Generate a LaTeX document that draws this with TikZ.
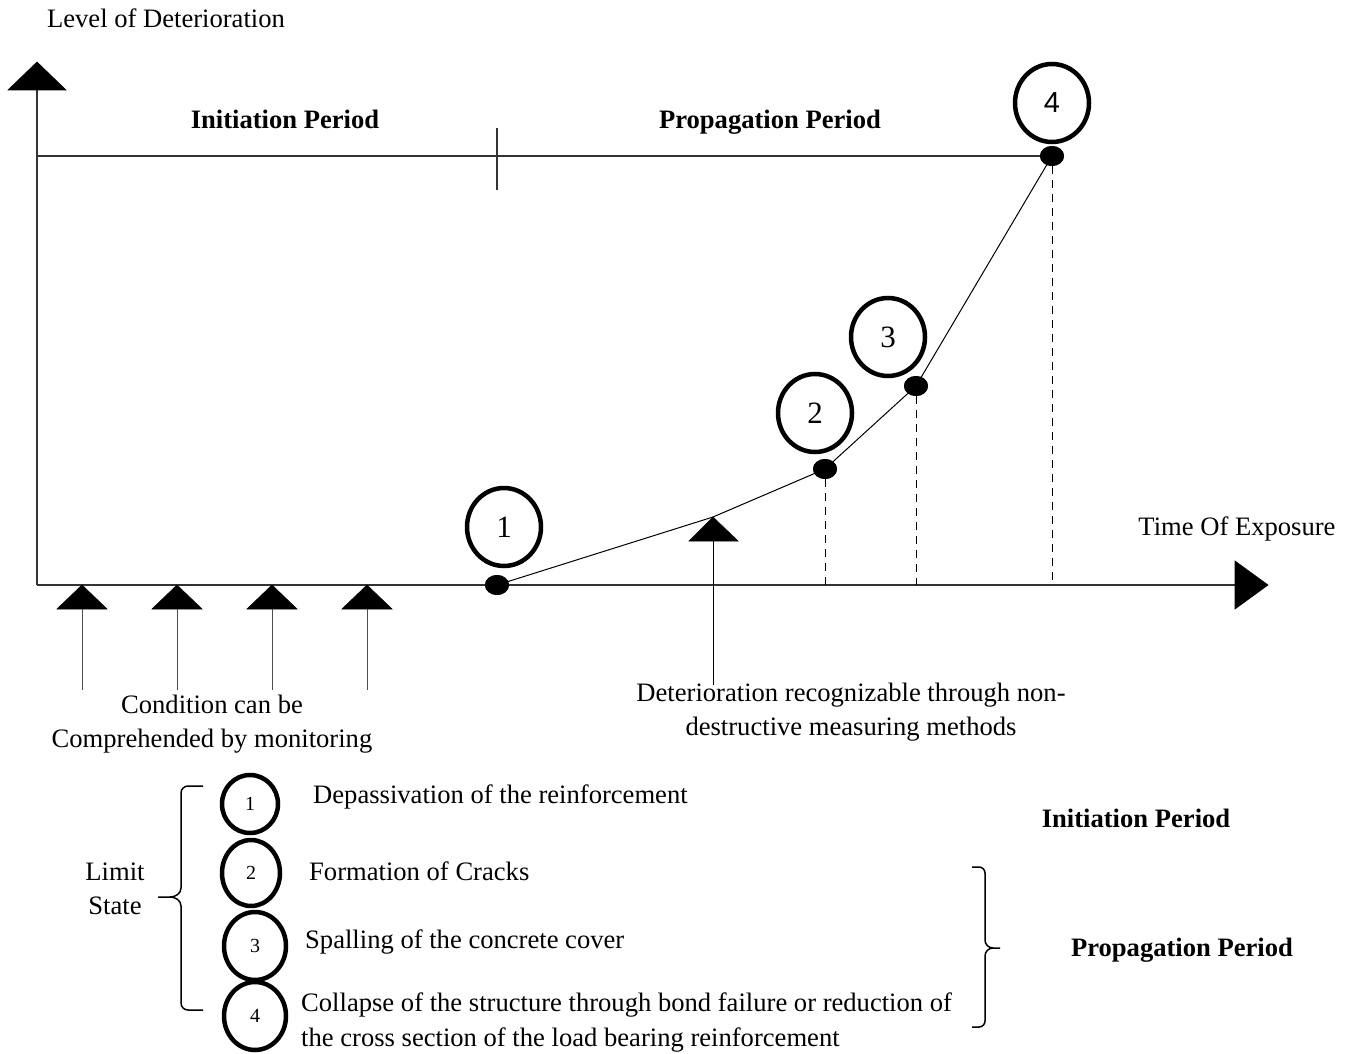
\documentclass[tikz,border=0pt]{standalone}
\usepackage{fontspec}
\setmainfont{Liberation Serif}
\newfontfamily\numsans{Liberation Sans}
\usetikzlibrary{shapes.geometric}
\begin{document}
\begin{tikzpicture}[x=1pt,y=-1pt,
  axisline/.style={line width=1.4pt, draw=black!80},
  thinline/.style={line width=1pt, draw=black},
  dashline/.style={line width=1pt, draw=black, dash pattern=on 8pt off 6pt},
  tri/.style={fill=black, draw=black, line width=0.6pt},
  dotnode/.style={ellipse, fill=black, minimum width=24pt, minimum height=20pt, inner sep=0pt},
  bignum/.style={ellipse, draw, line width=4.5pt, minimum width=74pt, minimum height=78pt, inner sep=0pt, font=\fontsize{31}{34}\selectfont},
  smallnum/.style={ellipse, draw, line width=4.5pt, minimum width=58pt, minimum height=64pt, inner sep=0pt, font=\fontsize{20}{22}\selectfont},
  txt/.style={font=\fontsize{26.6}{34}\selectfont, inner sep=0pt, align=center},
  ltxt/.style={font=\fontsize{26.6}{35}\selectfont, inner sep=0pt, anchor=west, align=left},
  btxt/.style={font=\fontsize{26.6}{30}\selectfont\bfseries, inner sep=0pt, text height=18pt, text depth=6pt}
]
\useasboundingbox (0,0) rectangle (1355,1054);

% axes
\coordinate (O) at (37,585);
\coordinate (ytop) at (37,90);
\coordinate (xend) at (1235,585);
\draw[axisline] (O) -- (ytop);
\fill[tri] (8,90) -- (37,62) -- (66,90) -- cycle;
\draw[axisline] (O) -- (xend);
\fill[tri] (1235,561) -- (1268,585) -- (1235,609) -- cycle;

% top period line
\coordinate (topL) at (37,156);
\node[dotnode] (d4) at (1052,156) {};
\draw[axisline] (topL) -- (d4);
\coordinate (tickT) at (497,128);
\coordinate (tickB) at (497,190);
\draw[axisline] (tickT) -- (tickB);

% labels
\node[txt] (ylab) at (166,18) {Level of Deterioration};
\node[txt] (xlab) at (1237,529) {Time Of Exposure};
\node[btxt] (ip) at (285,123) {Initiation Period};
\node[btxt] (pp) at (770,123) {Propagation Period};

% dots
\node[dotnode] (d1) at (497,585) {};
\node[dotnode] (d2) at (825,469) {};
\node[dotnode] (d3) at (916,386) {};

% deterioration curve
\coordinate (ndt) at (713,517);
\draw[thinline] (d1.center) -- (ndt) -- (d2.center) -- (d3.center) -- (d4.center);
\node[dotnode] at (d1) {};
\node[dotnode] at (d2) {};
\node[dotnode] at (d3) {};
\node[dotnode] at (d4) {};

% dashed drops
\coordinate (f2) at (825,585);
\coordinate (f3) at (916,585);
\coordinate (f4) at (1052,585);
\draw[dashline] (d2) -- (f2);
\draw[dashline] (d3) -- (f3);
\draw[dashline] (d4) -- (f4);

% numbered circles on graph
\node[bignum] (c1) at (504,527) {1};
\node[bignum] (c2) at (815,413) {2};
\node[bignum] (c3) at (888,337) {3};
\node[bignum] (c4) at (1052,103) {\numsans\fontsize{29}{32}\selectfont 4};

% NDT arrow
\coordinate (ndtb) at (713,685);
\fill[tri] (689,541) -- (ndt) -- (738,541) -- cycle;
\draw[thinline] (713,541) -- (ndtb);
\node[txt] (ndttxt) at (851,712) {Deterioration recognizable through non-\\destructive measuring methods};

% monitoring arrows
\foreach \xx/\nm in {82/m1,177/m2,272/m3,367/m4}{
  \coordinate (\nm t) at (\xx,585);
  \coordinate (\nm b) at (\xx,690);
  \fill[tri] (\xx-25,609) -- (\nm t) -- (\xx+25,609) -- cycle;
  \draw[line width=1pt, draw=black!70] (\xx,609) -- (\nm b);
}
\node[txt] (mon) at (212,724) {Condition can be\\Comprehended by monitoring};

% legend
\node[txt] (ls) at (115,889) {Limit\\State};
\draw[line width=1.5pt] (203,786) -- (188,786) to[out=180,in=90] (181,793) -- (181,888)
  to[out=-90,in=0] (170,897) -- (158,897);
\draw[line width=1.5pt] (170,897) to[out=0,in=90] (181,906) -- (181,1003)
  to[out=-90,in=180] (188,1010) -- (203,1010);

\node[smallnum, minimum width=56pt, minimum height=58pt] (l1) at (250,804) {1};
\node[smallnum, minimum height=66pt] (l2) at (251,873) {2};
\node[smallnum, minimum width=62pt, minimum height=68pt] (l3) at (255,946) {3};
\node[smallnum, minimum width=62pt, minimum height=68pt] (l4) at (255,1016) {4};

\node[ltxt] (t1) at (313,797) {Depassivation of the reinforcement};
\node[ltxt] (t2) at (309,871) {Formation of Cracks};
\node[ltxt] (t3) at (305,942) {Spalling of the concrete cover};
\node[ltxt] (t4) at (301,1022) {Collapse of the structure through bond failure or reduction of\\the cross section of the load bearing reinforcement};

\draw[line width=1.5pt] (972,867) -- (979,867) to[out=0,in=90] (985,873) -- (985,940)
  to[out=-90,in=180] (993,948) -- (1000,948);
\draw[line width=1.5pt] (993,948) to[out=180,in=90] (985,956) -- (985,1021)
  to[out=-90,in=0] (979,1027) -- (972,1027);

\node[btxt] (ip2) at (1136,821) {Initiation Period};
\node[btxt] (pp2) at (1182,950) {Propagation Period};
\end{tikzpicture}
\end{document}
